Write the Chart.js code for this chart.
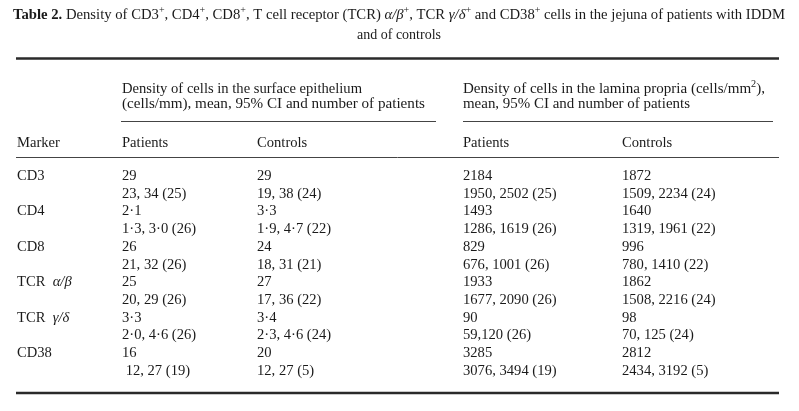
<!DOCTYPE html>
<html>
<head>
<meta charset="utf-8">
<script src="https://cdn.jsdelivr.net/npm/chart.js@4"></script>
<style>
  body { margin: 0; background: #fff; }
  #wrap { width: 799px; height: 411px; }
</style>
</head>
<body>
<div id="wrap"><canvas id="tbl" width="799" height="411"></canvas></div>
<script>
// table content
const markers = ["CD3", "CD4", "CD8", "TCR α/β", "TCR γ/δ", "CD38"];
const epiPatientsMean = ["29", "2·1", "26", "25", "3·3", "16"];
const epiPatientsCI = ["23, 34 (25)", "1·3, 3·0 (26)", "21, 32 (26)", "20, 29 (26)", "2·0, 4·6 (26)", " 12, 27 (19)"];
const epiControlsMean = ["29", "3·3", "24", "27", "3·4", "20"];
const epiControlsCI = ["19, 38 (24)", "1·9, 4·7 (22)", "18, 31 (21)", "17, 36 (22)", "2·3, 4·6 (24)", "12, 27 (5)"];
const lpPatientsMean = ["2184", "1493", "829", "1933", "90", "3285"];
const lpPatientsCI = ["1950, 2502 (25)", "1286, 1619 (26)", "676, 1001 (26)", "1677, 2090 (26)", "59,120 (26)", "3076, 3494 (19)"];
const lpControlsMean = ["1872", "1640", "996", "1862", "98", "2812"];
const lpControlsCI = ["1509, 2234 (24)", "1319, 1961 (22)", "780, 1410 (22)", "1508, 2216 (24)", "70, 125 (24)", "2434, 3192 (5)"];
const columnHeads = ["Marker", "Patients", "Controls", "Patients", "Controls"];

const FONT = "'Liberation Serif', 'Times New Roman', serif";
const INK = "#1a1a1a";
const SIZE = 14.6;

// pieces: [text, style] style: b=bold, i=italic, s=superscript
function drawRich(ctx, parts, x, y, size, align, fitWidth) {
  const fontFor = st => {
    const sz = st && st.includes("s") ? size * 0.68 : size;
    return (st && st.includes("i") ? "italic " : "") + (st && st.includes("b") ? "bold " : "") + sz + "px " + FONT;
  };
  let w = 0;
  parts.forEach(p => { ctx.font = fontFor(p[1]); w += ctx.measureText(p[0]).width; });
  let sx = 1;
  if (fitWidth) sx = fitWidth / w;
  let cx = align === "center" ? x - (w * sx) / 2 : x;
  ctx.save();
  ctx.translate(cx, y);
  ctx.scale(sx, 1);
  let ox = 0;
  parts.forEach(p => {
    ctx.font = fontFor(p[1]);
    const dy = p[1] && p[1].includes("s") ? -size * 0.42 : 0;
    ctx.fillText(p[0], ox, dy);
    ox += ctx.measureText(p[0]).width;
  });
  ctx.restore();
}

function markerParts(m) {
  return m.split(" ").map((w, i, a) => [w + (i < a.length - 1 ? "  " : ""), /[α-ω]/.test(w) ? "i" : ""]);
}

const tablePlugin = {
  id: "tableText",
  afterDraw(chart) {
    const ctx = chart.ctx;
    const X = v => chart.scales.x.getPixelForValue(v);
    const Y = v => chart.scales.y.getPixelForValue(v);
    ctx.save();
    ctx.fillStyle = INK;
    ctx.textBaseline = "alphabetic";

    // title
    drawRich(ctx, [
      ["Table 2.", "b"], [" Density of CD3", ""], ["+", "s"], [", CD4", ""], ["+", "s"],
      [", CD8", ""], ["+", "s"], [", T cell receptor (TCR) ", ""], ["α/β", "i"], ["+", "s"],
      [", TCR ", ""], ["γ/δ", "i"], ["+", "s"], [" and CD38", ""], ["+", "s"],
      [" cells in the jejuna of patients with IDDM", ""]
    ], X(399), Y(19), 14, "center", 772);
    drawRich(ctx, [["and of controls", ""]], X(399), Y(39), 14, "center");

    // rules
    const rule = (x1, x2, y, lw, col) => {
      ctx.beginPath();
      ctx.strokeStyle = col;
      ctx.lineWidth = lw;
      ctx.moveTo(X(x1), Y(y));
      ctx.lineTo(X(x2), Y(y));
      ctx.stroke();
    };
    rule(16, 779, 58.5, 2.5, "#2a2a2a");
    rule(121, 436, 121.5, 1, "#444");
    rule(463, 773, 121.5, 1, "#444");
    rule(16, 779, 157.5, 1, "#444");
    rule(16, 779, 393, 2.5, "#2a2a2a");

    // group headers
    const colX = [17, 122, 257, 463, 622];
    drawRich(ctx, [["Density of cells in the surface epithelium", ""]], X(colX[1]), Y(93), SIZE, "left", 240);
    drawRich(ctx, [["(cells/mm), mean, 95% CI and number of patients", ""]], X(colX[1]), Y(108), SIZE, "left", 303);
    drawRich(ctx, [["Density of cells in the lamina propria (cells/mm", ""], ["2", "s"], ["),", ""]], X(colX[3]), Y(93), SIZE, "left", 302);
    drawRich(ctx, [["mean, 95% CI and number of patients", ""]], X(colX[3]), Y(108), SIZE, "left", 227);

    columnHeads.forEach((h, i) => drawRich(ctx, [[h, ""]], X(colX[i]), Y(147), SIZE, "left"));

    // body rows
    const cols = [
      [epiPatientsMean, epiPatientsCI],
      [epiControlsMean, epiControlsCI],
      [lpPatientsMean, lpPatientsCI],
      [lpControlsMean, lpControlsCI]
    ];
    markers.forEach((m, r) => {
      const y1 = 180 + r * 2 * 17.7;
      const y2 = y1 + 17.7;
      drawRich(ctx, markerParts(m), X(colX[0]), Y(y1), SIZE, "left");
      cols.forEach((c, k) => {
        drawRich(ctx, [[c[0][r], ""]], X(colX[k + 1]), Y(y1), SIZE, "left");
        drawRich(ctx, [[c[1][r], ""]], X(colX[k + 1]), Y(y2), SIZE, "left");
      });
    });
    ctx.restore();
  }
};

new Chart(document.getElementById("tbl").getContext("2d"), {
  type: "scatter",
  data: { datasets: [] },
  options: {
    responsive: false,
    animation: false,
    layout: { padding: 0 },
    plugins: { legend: { display: false }, tooltip: { enabled: false } },
    scales: {
      x: { type: "linear", min: 0, max: 799, display: false },
      y: { type: "linear", min: 0, max: 411, reverse: true, display: false }
    }
  },
  plugins: [tablePlugin]
});
</script>
</body>
</html>
